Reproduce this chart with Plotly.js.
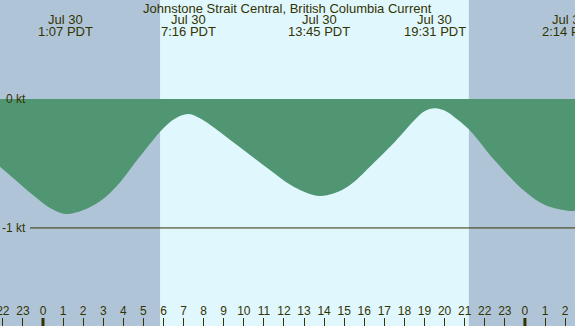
<!DOCTYPE html>
<html>
<head>
<meta charset="utf-8">
<script src="https://cdn.plot.ly/plotly-3.0.1.min.js"></script>
<style>html,body{margin:0;padding:0;background:#b0c4d8;}#chart{width:575px;height:326px;}</style>
</head>
<body>
<div id="chart"></div>
<script>
// Hours relative to Jul 30 00:00 PDT
var hours = [-2.14, -1.49, -0.50, 0.35, 1.117, 1.99, 2.84, 3.69, 4.48, 5.33, 5.83, 6.32, 6.82, 7.267, 7.82, 8.32, 9.31, 10.31, 11.30, 12.30, 13.0, 13.75, 14.5, 15.29, 16.53, 17.53, 18.53, 19.0, 19.517, 20.0, 20.52, 21.17, 22.51, 24.0, 25.0, 26.233, 26.5];
var currentKt = [-0.525, -0.612, -0.744, -0.845, -0.891, -0.862, -0.793, -0.672, -0.515, -0.348, -0.255, -0.180, -0.132, -0.116, -0.150, -0.200, -0.316, -0.434, -0.550, -0.664, -0.720, -0.752, -0.731, -0.667, -0.486, -0.331, -0.160, -0.095, -0.072, -0.090, -0.145, -0.230, -0.480, -0.718, -0.822, -0.868, -0.867];

var eventHours = [1.117, 7.267, 13.75, 19.517, 26.233];
var eventDates = ["Jul 30", "Jul 30", "Jul 30", "Jul 30", "Jul 31"];
var eventTimes = ["1:07 PDT", "7:16 PDT", "13:45 PDT", "19:31 PDT", "2:14 PDT"];

var tickHours = [-2,-1,0,1,2,3,4,5,6,7,8,9,10,11,12,13,14,15,16,17,18,19,20,21,22,23,24,25,26];
var tickLabels = ["22","23","0","1","2","3","4","5","6","7","8","9","10","11","12","13","14","15","16","17","18","19","20","21","22","23","0","1","2"];
var midnights = [0, 24];

var sunrise = 5.83, sunset = 21.21;
var levelVals = [0, -1];
var levelLabels = ["0 kt", "-1 kt"];

var ink = "#333300";
var fontFam = "Liberation Sans, Arial, sans-serif";
var H = 326;

var shapes = [
  {type:"rect", xref:"x", yref:"paper", x0:sunrise, x1:sunset, y0:0, y1:1, fillcolor:"#e0f7fe", line:{width:0}, layer:"below"},
  {type:"line", xref:"paper", yref:"y", x0:30/575, x1:1, y0:-1, y1:-1, line:{color:ink, width:1}, layer:"above"}
];
midnights.forEach(function(m){
  shapes.push({type:"line", xref:"x", yref:"paper", x0:m, x1:m, y0:0, y1:8/H, line:{color:ink, width:3}});
});

var annotations = [{xref:"paper", yref:"paper", x:0.5, y:1-9/H, yanchor:"middle", xanchor:"center",
  text:"Johnstone Strait Central, British Columbia Current", showarrow:false, font:{family:fontFam, size:13, color:ink}}];
eventHours.forEach(function(h, i){
  annotations.push({xref:"x", yref:"paper", x:h, y:1-19.5/H, yanchor:"middle", xanchor:"center", showarrow:false,
    text:eventDates[i], font:{family:fontFam, size:13, color:ink}});
  annotations.push({xref:"x", yref:"paper", x:h, y:1-31/H, yanchor:"middle", xanchor:"center", showarrow:false,
    text:eventTimes[i], font:{family:fontFam, size:13, color:ink}});
});
levelVals.forEach(function(v, i){
  annotations.push({xref:"paper", yref:"y", x:28/575, y:v, xanchor:"right", yanchor:"middle", showarrow:false,
    text:levelLabels[i], font:{family:fontFam, size:12, color:ink}});
});

var trace = {x:hours, y:currentKt, type:"scatter", mode:"lines", fill:"tozeroy",
  fillcolor:"#519673", line:{color:"#519673", width:0, shape:"spline", smoothing:1}, hoverinfo:"skip"};

var layout = {
  width:575, height:326, margin:{l:0, r:0, t:0, b:0},
  paper_bgcolor:"#b0c4d8", plot_bgcolor:"rgba(0,0,0,0)",
  showlegend:false,
  xaxis:{range:[-2.141, 26.494], tickmode:"array", tickvals:tickHours, ticktext:tickLabels,
    ticks:"inside", ticklen:8, tickcolor:ink, tickwidth:1, ticklabelposition:"inside", ticklabeloverflow:"allow",
    tickfont:{family:fontFam, size:12, color:ink}, showgrid:false, zeroline:false, showline:false, fixedrange:true},
  yaxis:{range:[-1.760, 0.767], showticklabels:false, ticks:"", showgrid:false, zeroline:false, showline:false, fixedrange:true},
  shapes:shapes, annotations:annotations
};

Plotly.newPlot("chart", [trace], layout, {staticPlot:true, displayModeBar:false});
</script>
</body>
</html>
